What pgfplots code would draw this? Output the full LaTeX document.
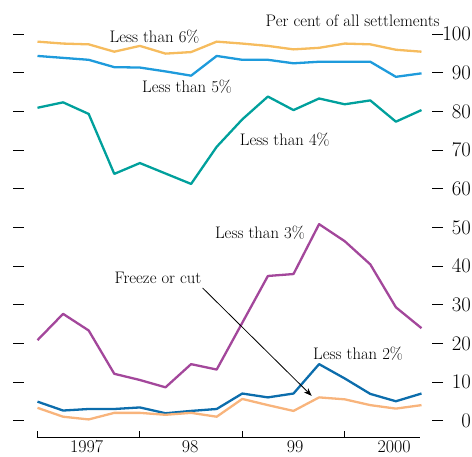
\documentclass[border=0pt]{standalone}
\usepackage{pgfplots}
\pgfplotsset{compat=1.18}
\usetikzlibrary{arrows.meta}
\definecolor{csix}{HTML}{F6BC5E}
\definecolor{cfive}{HTML}{1E9BDC}
\definecolor{cfour}{HTML}{00A09C}
\definecolor{cthree}{HTML}{A3479B}
\definecolor{ctwo}{HTML}{0C6DAC}
\definecolor{cfrz}{HTML}{F8B47C}
\begin{document}
\begin{tikzpicture}
\useasboundingbox (0,0) rectangle (472pt,457pt);
\begin{axis}[
  at={(13.3pt,19pt)}, anchor=south west,
  scale only axis, width=429.7pt, height=403.7pt,
  xmin=-0.945, xmax=15.84, ymin=-4.4, ymax=100,
  clip=false,
  axis line style={draw=none},
  ytick={0,10,...,100},
  ytick pos=both, yticklabel pos=right,
  tick align=inside,
  major tick length=11pt,
  ytick style={line width=1pt, black},
  yticklabel style={anchor=east, xshift=28pt, inner sep=0pt, font=\fontsize{19.5}{20}\selectfont},
  xtick={1.92,5.96,10.06,13.93},
  xticklabels={1997,98,99,2000},
  xtick pos=bottom,
  xtick style={draw=none},
  xticklabel style={anchor=north, inner sep=0pt, yshift=-2.5pt, font=\fontsize{18}{19}\selectfont},
  every axis plot/.append style={line width=2.3pt, line join=round},
]
\addplot[csix] coordinates {(0,98.1)(1,97.6)(2,97.4)(3,95.5)(4,97.0)(5,95.0)(6,95.4)(7,98.1)(8,97.6)(9,97.0)(10,96.1)(11,96.5)(12,97.6)(13,97.4)(14,96.0)(15,95.5)};
\addplot[cfive] coordinates {(0,94.4)(1,93.9)(2,93.4)(3,91.5)(4,91.4)(5,90.4)(6,89.3)(7,94.4)(8,93.4)(9,93.4)(10,92.5)(11,92.9)(12,92.9)(13,92.9)(14,89.0)(15,89.9)};
\addplot[cfour] coordinates {(0,81.0)(1,82.4)(2,79.4)(3,63.9)(4,66.7)(5,64.0)(6,61.3)(7,70.9)(8,78.0)(9,83.9)(10,80.4)(11,83.4)(12,81.9)(13,82.9)(14,77.4)(15,80.4)};
\addplot[cthree] coordinates {(0,20.9)(1,27.7)(2,23.4)(3,12.2)(4,10.6)(5,8.7)(6,14.7)(7,13.3)(8,25.4)(9,37.5)(10,38.0)(11,50.9)(12,46.5)(13,40.5)(14,29.4)(15,24.0)};
\addplot[ctwo] coordinates {(0,5.0)(1,2.7)(2,3.1)(3,3.1)(4,3.5)(5,2.0)(6,2.6)(7,3.1)(8,7.1)(9,6.1)(10,7.1)(11,14.7)(12,11.0)(13,7.0)(14,5.1)(15,7.1)};
\addplot[cfrz] coordinates {(0,3.4)(1,1.1)(2,0.4)(3,2.1)(4,2.1)(5,1.6)(6,2.1)(7,1.1)(8,5.7)(9,4.1)(10,2.6)(11,6.1)(12,5.6)(13,4.1)(14,3.2)(15,4.1)};
% x axis line and year ticks
\draw[line width=1pt] (axis cs:-0.03,-4.4) -- (axis cs:14.95,-4.4);
\draw[line width=1pt] (axis cs:0,-4.4) -- (axis cs:0,-2.6);
\draw[line width=1pt] (axis cs:4,-4.4) -- (axis cs:4,-2.6);
\draw[line width=1pt] (axis cs:8,-4.4) -- (axis cs:8,-2.6);
\draw[line width=1pt] (axis cs:12,-4.4) -- (axis cs:12,-2.6);
% annotations
\begin{scope}[every node/.style={font=\fontsize{16.7}{18}\selectfont, text=black, inner sep=0pt}]
\node at (axis cs:4.57,99.3) {Less than 6\%};
\node[anchor=east] at (axis cs:15.72,103.4) {Per cent of all settlements};
\node at (axis cs:5.84,86.4) {Less than 5\%};
\node at (axis cs:9.66,72.7) {Less than 4\%};
\node at (axis cs:8.69,48.6) {Less than 3\%};
\node at (axis cs:4.71,36.9) {Freeze or cut};
\node at (axis cs:12.52,17.3) {Less than 2\%};
\end{scope}
\draw[-{Stealth[length=8pt,width=6pt]}, line width=0.8pt] (axis cs:6.45,34.4) -- (axis cs:10.71,6.5);
\end{axis}
\end{tikzpicture}
\end{document}
